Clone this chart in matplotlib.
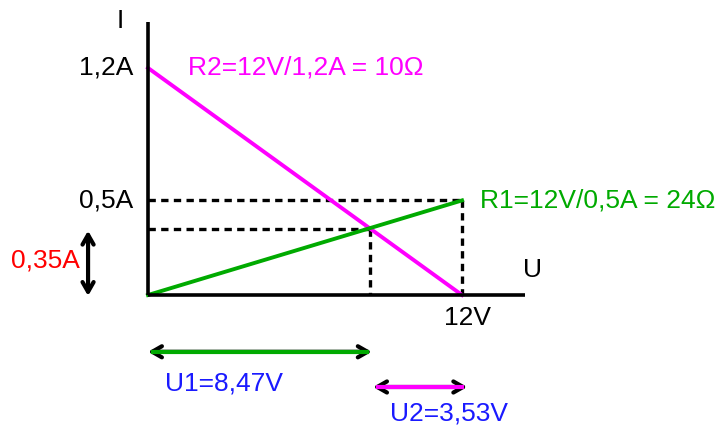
import matplotlib
matplotlib.use("Agg")
import matplotlib.pyplot as plt

# Data
U_max = 12.0          # V
I_max_R2 = 1.2        # A
I_max_R1 = 0.5        # A
U1 = 8.47             # V
U2 = 3.53             # V
I_op = 0.35           # A

plt.rcParams['font.family'] = ['Liberation Sans', 'DejaVu Sans']

fig = plt.figure(figsize=(7.27, 4.29), dpi=100)
ax = fig.add_axes([0, 0, 1, 1])
ax.set_xlim(-5.655, 22.125)
ax.set_ylim(-0.708, 1.559)
ax.axis('off')

fs = 19
# axes
ax.plot([0, 0], [0, 1.443], color='black', lw=2.6, solid_capstyle='butt', zorder=3)
ax.plot([0, 14.41], [0, 0], color='black', lw=2.6, solid_capstyle='butt', zorder=3)

# dashed guides
dash = dict(color='black', lw=2.4, linestyle=(0, (2.2, 1.6)), zorder=1)
ax.plot([0, U_max], [I_max_R1, I_max_R1], **dash)
ax.plot([U_max, U_max], [I_max_R1, 0], **dash)
ax.plot([0, U1], [I_op, I_op], **dash)
ax.plot([U1, U1], [I_op, 0], **dash)

# characteristic lines
ax.plot([0, U_max], [I_max_R2, 0], color='#ff00ff', lw=2.8, zorder=2)
ax.plot([0, U_max], [0, I_max_R1], color='#00aa00', lw=2.8, zorder=2)

# arrows
def dbl_arrow(x0, y0, x1, y1, shaft):
    ax.annotate('', xy=(x1, y1), xytext=(x0, y0),
                arrowprops=dict(arrowstyle='<->,head_length=0.7,head_width=0.4',
                                color='black', lw=3.0, shrinkA=0, shrinkB=0))
    if shaft is not None:
        ax.plot([x0 + 0.2, x1 - 0.2], [y0, y1], color=shaft, lw=3.0, zorder=4)

dbl_arrow(0.0, -0.30, 8.55, -0.30, '#00aa00')
dbl_arrow(8.6, -0.486, 12.2, -0.486, '#ff00ff')
dbl_arrow(-2.29, 0.34, -2.29, -0.005, None)

# texts
ax.text(-1.07, 1.45, 'I', fontsize=fs, ha='center', va='center', color='black')
ax.text(-0.57, I_max_R2, '1,2A', fontsize=fs, ha='right', va='center', color='black')
ax.text(-0.57, I_max_R1, '0,5A', fontsize=fs, ha='right', va='center', color='black')
ax.text(-2.6, 0.185, '0,35A', fontsize=fs, ha='right', va='center', color='#ff0000')
ax.text(1.53, I_max_R2, 'R2=12V/1,2A = 10Ω', fontsize=fs, ha='left', va='center', color='#ff00ff')
ax.text(12.69, I_max_R1, 'R1=12V/0,5A = 24Ω', fontsize=fs, ha='left', va='center', color='#00aa00')
ax.text(14.71, 0.132, 'U', fontsize=fs, ha='center', va='center', color='black')
ax.text(12.2, -0.12, '12V', fontsize=fs, ha='center', va='center', color='black')
ax.text(0.65, -0.465, 'U1=8,47V', fontsize=fs, ha='left', va='center', color='#1a1aff')
ax.text(9.25, -0.624, 'U2=3,53V', fontsize=fs, ha='left', va='center', color='#1a1aff')

fig.savefig('out.png', dpi=100)
